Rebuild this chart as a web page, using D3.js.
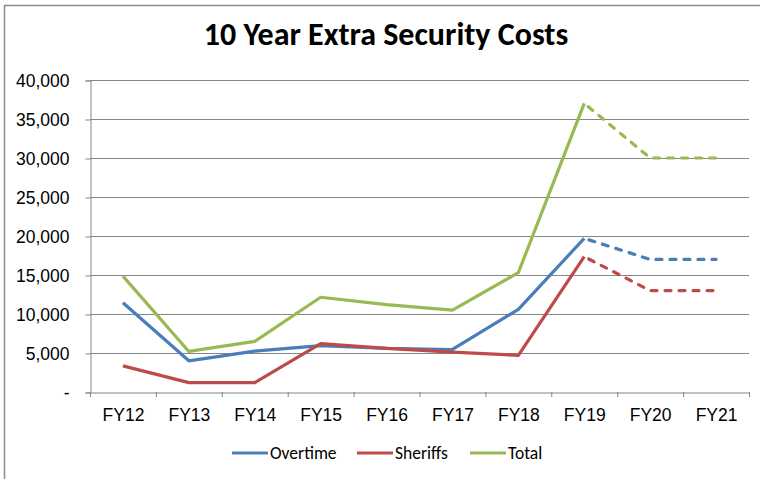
<!DOCTYPE html>
<html>
<head>
<meta charset="utf-8">
<script src="https://cdn.jsdelivr.net/npm/d3@7"></script>
<style>
  body { margin: 0; background: #fff; }
  svg { display: block; font-family: Calibri, Carlito, "Liberation Sans", Arial, sans-serif; }
</style>
</head>
<body>
<svg id="chart" width="760" height="479"></svg>
<script>
// chart values
const years = ["FY12", "FY13", "FY14", "FY15", "FY16", "FY17", "FY18", "FY19", "FY20", "FY21"];
const overtime = [11450, 4000, 5250, 5950, 5600, 5450, 10600, 19700, 17000, 17000];
const sheriffs = [3350, 1200, 1200, 6200, 5600, 5100, 4700, 17350, 13000, 13000];
const total = [14850, 5200, 6500, 12150, 11200, 10500, 15300, 37000, 30000, 30000];
const yTicks = [0, 5000, 10000, 15000, 20000, 25000, 30000, 35000, 40000];
const lastActual = "FY19"; // after this the lines are dashed (projections)

const series = [
    { name: "Overtime", values: overtime, color: "#4A7EBB" },
    { name: "Sheriffs", values: sheriffs, color: "#BE4B48" },
    { name: "Total", values: total, color: "#98B954" },
];

const svg = d3.select("#chart");
const plotLeft = 90, plotRight = 749, plotTop = 80, plotBottom = 392;
const labelSize = 17.5;

// outer chart frame
svg.append("rect")
    .attr("x", 4.5).attr("y", 5.5)
    .attr("width", 800).attr("height", 500)
    .attr("fill", "none").attr("stroke", "#8c8c8c").attr("stroke-width", 1.5);

svg.append("text")
    .attr("x", 386).attr("y", 44.5)
    .attr("text-anchor", "middle")
    .attr("font-size", 32).attr("font-weight", "bold")
    .attr("fill", "#000")
    .text("10 Year Extra Security Costs");

const x = d3.scaleBand().domain(years).range([plotLeft, plotRight]);
const y = d3.scaleLinear().domain([0, 40000]).range([plotBottom, plotTop]);

// gridlines
svg.append("g")
    .selectAll("line")
    .data(yTicks.filter(d => d > 0))
    .join("line")
    .attr("x1", plotLeft).attr("x2", plotRight)
    .attr("y1", d => y(d) + 0.5).attr("y2", d => y(d) + 0.5)
    .attr("stroke", "#868686").attr("stroke-width", 1);

const fmt = d => d === 0 ? "-" : d3.format(",")(d);

const yAxis = svg.append("g")
    .attr("transform", `translate(${plotLeft + 0.5},0.5)`)
    .call(d3.axisLeft(y).tickValues(yTicks).tickFormat(fmt).tickSize(5).tickPadding(16));
yAxis.select(".domain").attr("stroke", "#868686");
yAxis.selectAll(".tick line").attr("stroke", "#868686");
yAxis.selectAll(".tick text")
    .attr("font-size", labelSize).attr("fill", "#000")
    .attr("font-family", null);

const xAxis = svg.append("g")
    .attr("transform", `translate(0.5,${plotBottom + 0.5})`)
    .call(d3.axisBottom(x).tickSize(0).tickPadding(16));
xAxis.select(".domain").attr("stroke", "#868686");
xAxis.selectAll(".tick text")
    .attr("font-size", labelSize).attr("fill", "#000")
    .attr("font-family", null);
// category boundary ticks
svg.append("g")
    .selectAll("line")
    .data(years.concat(["end"]))
    .join("line")
    .attr("x1", (d, i) => plotLeft + i * x.bandwidth() + 0.5)
    .attr("x2", (d, i) => plotLeft + i * x.bandwidth() + 0.5)
    .attr("y1", plotBottom).attr("y2", plotBottom + 5)
    .attr("stroke", "#868686");

const cx = d => x(d) + x.bandwidth() / 2;
const line = d3.line().x(d => cx(d.year)).y(d => y(d.value));
const split = years.indexOf(lastActual);

const lines = svg.append("g");
series.forEach(s => {
    const pts = years.map((yr, i) => ({ year: yr, value: s.values[i] }));
    lines.append("path")
        .datum(pts.slice(0, split + 1))
        .attr("d", line)
        .attr("fill", "none").attr("stroke", s.color)
        .attr("stroke-width", 3.2).attr("stroke-linejoin", "round");
    lines.append("path")
        .datum(pts.slice(split))
        .attr("d", line)
        .attr("fill", "none").attr("stroke", s.color)
        .attr("stroke-width", 3.2).attr("stroke-linejoin", "round")
        .attr("stroke-linecap", "round")
        .attr("stroke-dasharray", "6,8").attr("stroke-dashoffset", -5);
});

// legend
const legendX = [232, 357, 470];
const legend = svg.append("g");
series.forEach((s, i) => {
    legend.append("line")
        .attr("x1", legendX[i]).attr("x2", legendX[i] + 36)
        .attr("y1", 453).attr("y2", 453)
        .attr("stroke", s.color).attr("stroke-width", 3.2);
    legend.append("text")
        .attr("x", legendX[i] + 38).attr("y", 459)
        .attr("font-size", labelSize).attr("fill", "#000")
        .text(s.name);
});
</script>
</body>
</html>
